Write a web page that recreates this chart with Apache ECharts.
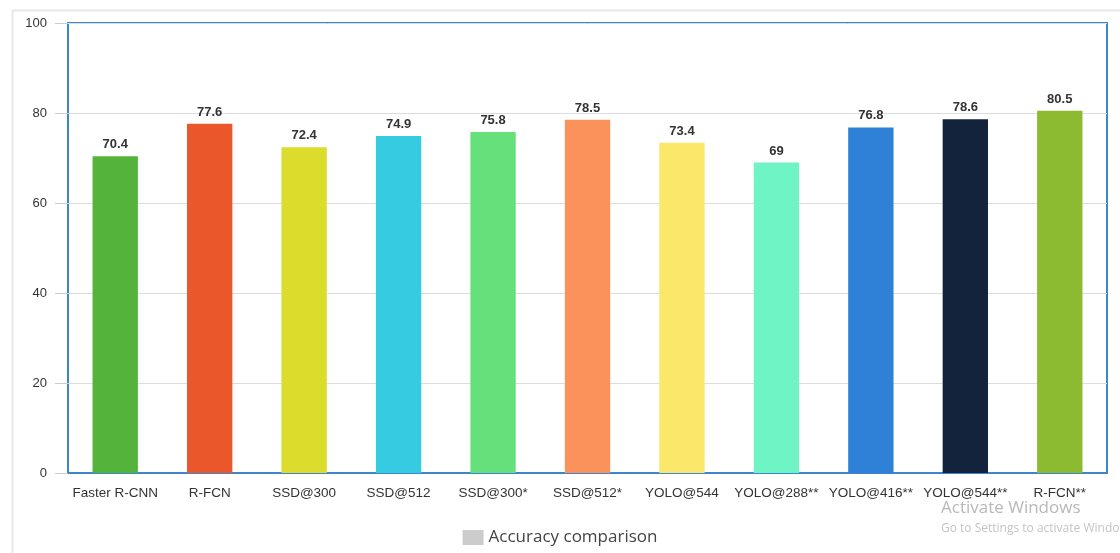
<!DOCTYPE html>
<html>
<head>
<meta charset="utf-8">
<script src="https://cdn.jsdelivr.net/npm/echarts@6/dist/echarts.min.js"></script>
<style>
  html, body { margin: 0; padding: 0; background: #fff; }
  #main { width: 1120px; height: 553px; }
</style>
</head>
<body>
<div id="main"></div>
<script>
// categories and values
const categories = ['Faster R-CNN', 'R-FCN', 'SSD@300', 'SSD@512', 'SSD@300*', 'SSD@512*',
  'YOLO@544', 'YOLO@288**', 'YOLO@416**', 'YOLO@544**', 'R-FCN**'];
const accuracy = [70.4, 77.6, 72.4, 74.9, 75.8, 78.5, 73.4, 69, 76.8, 78.6, 80.5];
const barColors = ['#53b33b', '#e9572b', '#dcdc2d', '#35cbe1', '#66e07b', '#fb925b',
  '#fbe86b', '#6ff4c5', '#2f80d7', '#12233b', '#8cba30'];
const yTicks = [0, 20, 40, 60, 80, 100];

const chartDom = document.getElementById('main');
const myChart = echarts.init(chartDom);

const option = {
  backgroundColor: '#fff',
  animation: false,
  graphic: [
    {
      type: 'rect', left: 10, top: 8, z: -10,
      shape: { width: 1130, height: 560 },
      style: { fill: 'none', stroke: '#e8e8e8', lineWidth: 2 }
    },
    {
      type: 'text', left: 941, top: 500,
      style: { text: 'Activate Windows', fill: '#b8b8b8', font: '17px "Open Sans", sans-serif' }
    },
    {
      type: 'text', left: 941, top: 523,
      style: { text: 'Go to Settings to activate Windows.', fill: '#c4c4c4', font: '12px "Open Sans", sans-serif' }
    }
  ],
  legend: {
    bottom: 2,
    left: 'center',
    icon: 'rect',
    itemWidth: 21,
    itemHeight: 15,
    itemGap: 10,
    textStyle: { fontSize: 17, color: '#444', fontFamily: 'Open Sans' },
    data: ['Accuracy comparison']
  },
  grid: {
    left: 68,
    right: 13,
    top: 23,
    bottom: 80,
    show: true,
    borderColor: '#3b86cf',
    borderWidth: 2
  },
  xAxis: {
    type: 'category',
    data: categories,
    axisLine: { lineStyle: { color: '#3b86cf', width: 2 } },
    axisTick: { length: 14, lineStyle: { color: '#ccc' } },
    axisLabel: { color: '#333', fontSize: 13.5, margin: 13, fontFamily: 'Liberation Sans', interval: 0 }
  },
  yAxis: {
    type: 'value',
    min: yTicks[0],
    max: yTicks[yTicks.length - 1],
    interval: 20,
    axisLine: { show: false },
    axisTick: { show: true, length: 13, lineStyle: { color: '#ccc' } },
    splitLine: { lineStyle: { color: '#dcdcdc' } },
    axisLabel: { color: '#333', fontSize: 13, margin: 21, fontFamily: 'Liberation Sans' }
  },
  series: [
    {
      name: 'Accuracy comparison',
      type: 'bar',
      barWidth: '48%',
      itemStyle: { color: '#cccccc' },
      label: {
        show: true,
        position: 'top',
        distance: 5,
        color: '#333',
        fontWeight: 'bold',
        fontSize: 13,
        fontFamily: 'Liberation Sans'
      },
      data: accuracy.map((v, i) => ({ value: v, itemStyle: { color: barColors[i] } }))
    }
  ]
};

option && myChart.setOption(option);
</script>
</body>
</html>
